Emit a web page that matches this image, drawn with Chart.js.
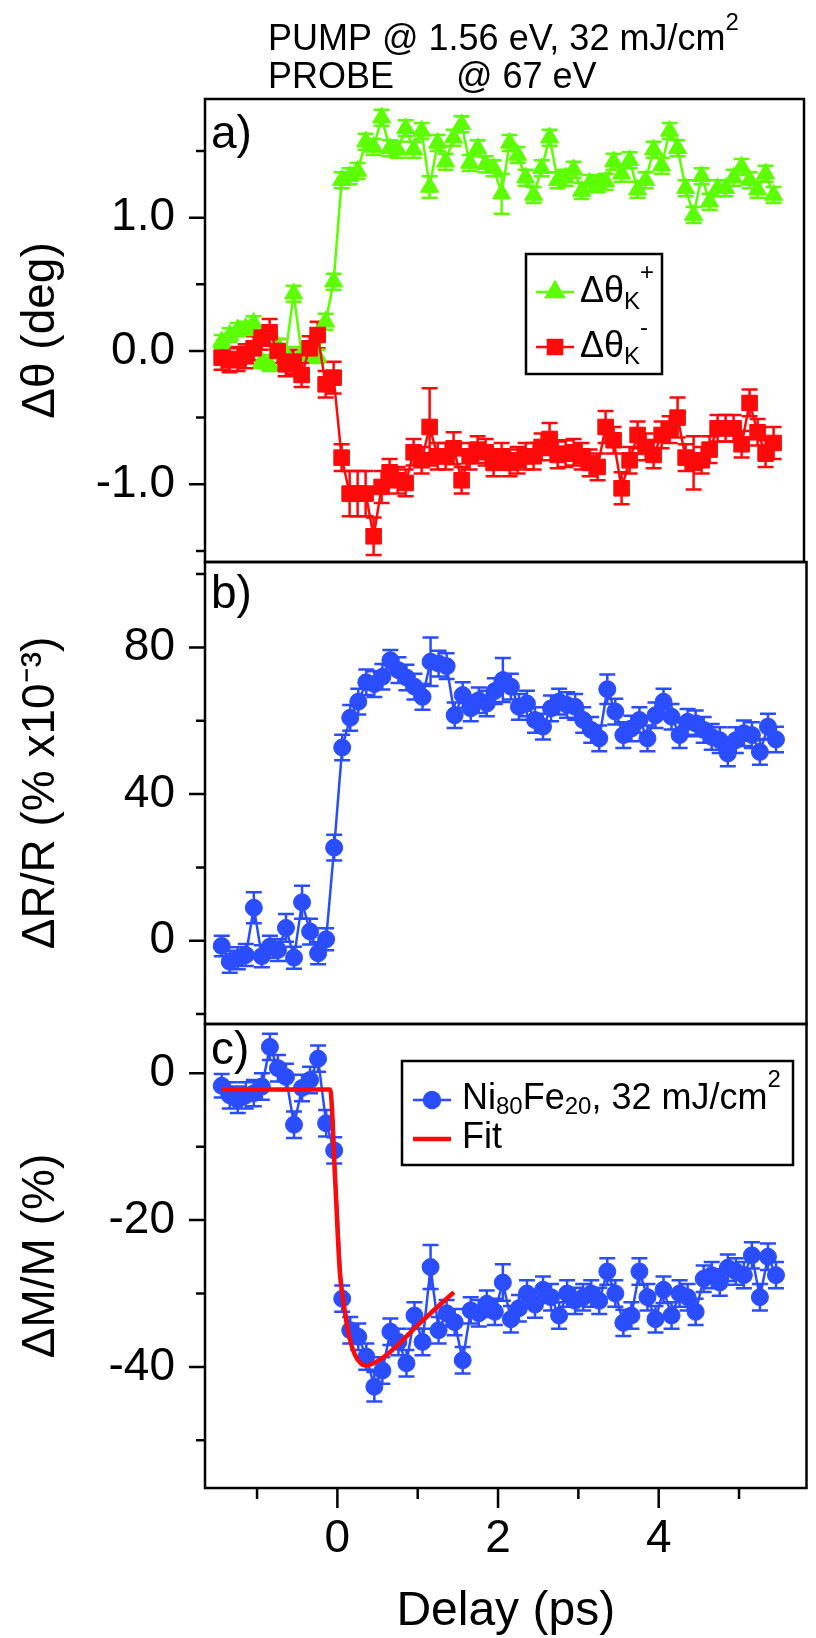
<!DOCTYPE html>
<html>
<head>
<meta charset="utf-8">
<script src="https://cdn.jsdelivr.net/npm/chart.js@4.4.0/dist/chart.umd.min.js"></script>
<style>
  body { margin: 0; background: #fff; }
  #wrap { position: relative; width: 816px; height: 1638px; overflow: hidden; }
  .panel { position: absolute; left: 0; width: 816px; }
</style>
</head>
<body>
<div id="wrap">
  <div class="panel" style="top:0;height:580px"><canvas id="chartA"></canvas></div>
  <div class="panel" style="top:540px;height:500px"><canvas id="chartB"></canvas></div>
  <div class="panel" style="top:1000px;height:638px"><canvas id="chartC"></canvas></div>
</div>
<script>
// pump-probe delay (ps), shared by all three panels
const delay = [-1.44, -1.34, -1.24, -1.14, -1.04, -0.94, -0.84, -0.74, -0.64, -0.54,
  -0.44, -0.34, -0.24, -0.14, -0.04, 0.06, 0.16, 0.26, 0.36, 0.46,
  0.56, 0.66, 0.76, 0.86, 0.96, 1.06, 1.16, 1.26, 1.36, 1.46,
  1.56, 1.66, 1.76, 1.86, 1.96, 2.06, 2.16, 2.26, 2.36, 2.46,
  2.56, 2.66, 2.76, 2.86, 2.96, 3.06, 3.16, 3.26, 3.36, 3.46,
  3.56, 3.66, 3.76, 3.86, 3.96, 4.06, 4.16, 4.26, 4.36, 4.46,
  4.56, 4.66, 4.76, 4.86, 4.96, 5.06, 5.16, 5.26, 5.36, 5.46];

// a) Kerr rotation, + and - helicity (deg)
const thetaPlus = [0.07, 0.12, 0.16, 0.17, 0.21, -0.08, -0.10, 0.04, -0.02, 0.43,
  -0.02, 0.00, -0.04, 0.22, 0.52, 1.28, 1.31, 1.35, 1.57, 1.53,
  1.75, 1.52, 1.51, 1.67, 1.51, 1.65, 1.23, 1.56, 1.42, 1.60,
  1.70, 1.41, 1.52, 1.40, 1.37, 1.18, 1.56, 1.47, 1.30, 1.17,
  1.37, 1.60, 1.28, 1.30, 1.36, 1.20, 1.26, 1.25, 1.27, 1.42,
  1.33, 1.43, 1.21, 1.28, 1.51, 1.39, 1.65, 1.52, 1.22, 1.02,
  1.31, 1.12, 1.22, 1.22, 1.30, 1.38, 1.28, 1.21, 1.33, 1.17];
const thetaPlusErr = [0.05, 0.05, 0.05, 0.05, 0.05, 0.05, 0.05, 0.05, 0.05, 0.06,
  0.05, 0.05, 0.05, 0.06, 0.06, 0.06, 0.06, 0.06, 0.06, 0.06,
  0.06, 0.06, 0.06, 0.06, 0.06, 0.06, 0.08, 0.06, 0.06, 0.06,
  0.06, 0.06, 0.06, 0.06, 0.06, 0.15, 0.06, 0.06, 0.06, 0.06,
  0.06, 0.06, 0.06, 0.06, 0.06, 0.06, 0.06, 0.06, 0.06, 0.06,
  0.06, 0.06, 0.06, 0.06, 0.06, 0.06, 0.06, 0.06, 0.06, 0.06,
  0.06, 0.06, 0.06, 0.06, 0.06, 0.06, 0.06, 0.06, 0.06, 0.06];
const thetaMinus = [-0.05, -0.07, -0.06, -0.04, 0.02, 0.10, 0.14, 0.00, -0.10, -0.08,
  -0.18, 0.02, 0.12, -0.25, -0.20, -0.80, -1.07, -1.07, -1.07, -1.39,
  -1.02, -0.91, -0.97, -0.99, -0.76, -0.82, -0.57, -0.79, -0.79, -0.73,
  -0.97, -0.79, -0.74, -0.76, -0.84, -0.79, -0.84, -0.82, -0.79, -0.79,
  -0.72, -0.66, -0.78, -0.77, -0.76, -0.79, -0.84, -0.87, -0.57, -0.67,
  -1.03, -0.82, -0.63, -0.72, -0.78, -0.63, -0.59, -0.50, -0.80, -0.84,
  -0.82, -0.74, -0.58, -0.58, -0.58, -0.70, -0.39, -0.61, -0.77, -0.69];
const thetaMinusErr = [0.09, 0.09, 0.09, 0.09, 0.09, 0.09, 0.10, 0.09, 0.09, 0.09,
  0.09, 0.09, 0.10, 0.10, 0.12, 0.10, 0.17, 0.17, 0.17, 0.14,
  0.12, 0.10, 0.10, 0.10, 0.10, 0.10, 0.29, 0.10, 0.10, 0.12,
  0.10, 0.10, 0.10, 0.10, 0.10, 0.10, 0.10, 0.10, 0.10, 0.10,
  0.10, 0.12, 0.10, 0.10, 0.10, 0.10, 0.10, 0.10, 0.12, 0.10,
  0.12, 0.10, 0.10, 0.10, 0.10, 0.10, 0.10, 0.15, 0.10, 0.20,
  0.10, 0.10, 0.10, 0.10, 0.10, 0.10, 0.10, 0.10, 0.10, 0.12];

// b) reflectivity change (% x10^-3)
const reflect = [-1.4, -5.7, -4.8, -3.9, 9.0, -4.2, -1.6, -2.5, 3.5, -4.6,
  10.5, 2.5, -3.4, 0.4, 25.4, 52.7, 60.8, 65.2, 70.5, 70.0,
  72.0, 76.5, 73.8, 71.8, 69.3, 66.5, 76.1, 75.6, 74.9, 61.5,
  67.0, 63.4, 65.6, 64.7, 68.1, 71.1, 69.3, 63.8, 64.7, 60.2,
  58.4, 63.4, 65.2, 64.3, 63.8, 60.2, 57.5, 55.2, 68.6, 62.5,
  56.1, 57.9, 60.2, 55.2, 61.5, 65.2, 61.1, 56.1, 59.7, 59.3,
  57.5, 55.6, 54.7, 51.1, 54.7, 56.6, 56.1, 51.5, 58.4, 54.9];
const reflectErr = [2.8, 3.0, 3.0, 3.0, 4.2, 3.0, 3.0, 3.0, 3.8, 3.0,
  4.5, 3.5, 3.0, 3.0, 3.5, 3.5, 3.5, 3.5, 3.5, 3.5,
  3.5, 2.8, 3.5, 3.5, 3.5, 3.5, 6.6, 3.5, 3.5, 3.5,
  3.5, 3.5, 3.5, 3.5, 3.5, 6.0, 3.5, 3.5, 3.5, 3.5,
  3.5, 3.5, 3.5, 3.5, 3.5, 3.5, 3.5, 3.5, 4.0, 3.5,
  3.5, 3.5, 3.5, 3.5, 3.5, 3.5, 3.5, 3.5, 3.5, 3.5,
  3.5, 3.5, 3.5, 3.5, 3.5, 3.5, 3.5, 3.5, 3.5, 3.5];

// c) magnetization change (%) and fit
const magn = [-1.7, -3.0, -3.6, -3.0, -2.7, -1.8, 3.6, 0.7, -0.5, -7.0,
  -2.0, -0.9, 2.0, -6.8, -10.5, -30.7, -35.0, -35.9, -38.6, -42.7,
  -40.5, -35.2, -36.6, -39.5, -33.0, -36.6, -26.4, -35.0, -32.7, -33.9,
  -39.1, -32.3, -32.7, -31.4, -32.5, -28.5, -33.5, -32.0, -30.0, -31.5,
  -29.5, -30.5, -33.0, -30.0, -31.0, -30.5, -30.0, -31.0, -27.0, -30.0,
  -34.0, -33.0, -27.0, -30.5, -33.5, -29.5, -33.0, -30.0, -30.5, -32.5,
  -28.0, -27.5, -28.5, -26.5, -27.0, -27.5, -24.8, -30.5, -25.0, -27.5];
const magnErr = [1.6, 1.8, 1.8, 1.8, 1.8, 1.8, 1.8, 1.8, 1.8, 1.8,
  1.8, 1.8, 1.8, 1.8, 1.8, 1.8, 1.8, 1.8, 1.8, 2.0,
  1.8, 1.8, 1.8, 1.8, 1.8, 1.8, 3.0, 1.8, 1.8, 1.8,
  1.8, 1.8, 1.8, 1.8, 1.8, 2.5, 1.8, 1.8, 1.8, 1.8,
  1.8, 1.8, 1.8, 1.8, 1.8, 1.8, 1.8, 1.8, 1.8, 1.8,
  1.8, 1.8, 1.8, 1.8, 1.8, 1.8, 1.8, 1.8, 1.8, 1.8,
  1.8, 1.8, 1.8, 1.8, 1.8, 1.8, 1.8, 1.8, 1.8, 1.8];
const fitX = [-1.44, -0.09, -0.03, 0.03, 0.08, 0.14, 0.22, 0.30, 0.36, 0.45, 0.63, 1.04, 1.45];
const fitY = [-2.2, -2.2, -14.0, -27.0, -31.5, -35.5, -38.4, -39.6, -39.8, -39.5, -38.2, -33.9, -29.8];

// axis ticks
const xMajor = [0, 2, 4];
const xMinor = [-1, 1, 3, 5];
const aMajor = [-1, 0, 1];
const aMinor = [-1.5, -0.5, 0.5, 1.5];
const bMajor = [0, 40, 80];
const bMinor = [-20, 20, 60, 100];
const cMajor = [-40, -20, 0];
const cMinor = [-50, -30, -10];

const GREEN = '#5cff00';
const RED = '#ff0a0a';
const BLUE = '#2a4dff';
const FONT = '"Liberation Sans", Arial, sans-serif';

Chart.defaults.font.family = FONT;
Chart.defaults.color = '#000';

function pts(xs, ys) {
  return xs.map((x, i) => ({ x: x, y: ys[i] }));
}

function richText(ctx, x, y, parts) {
  parts.forEach(p => {
    ctx.font = p.size + 'px ' + FONT;
    ctx.fillText(p.t, x, y + (p.dy || 0));
    x += ctx.measureText(p.t).width + (p.gap || 0);
  });
}

function legendLine(ctx, x, y, color, width, style, radius) {
  ctx.strokeStyle = color;
  ctx.fillStyle = color;
  ctx.lineWidth = width;
  ctx.beginPath();
  ctx.moveTo(x, y);
  ctx.lineTo(x + 38, y);
  ctx.stroke();
  if (style) {
    Chart.helpers.drawPoint(ctx, { pointStyle: style, radius: radius, rotation: 0, borderWidth: 1 }, x + 19, y);
  }
}

// box, ticks, error bars, panel letters and legends
const decor = {
  id: 'decor',
  beforeDatasetsDraw(chart) {
    const ctx = chart.ctx, xs = chart.scales.x, ys = chart.scales.y;
    chart.data.datasets.forEach(ds => {
      if (!ds.errors) return;
      ctx.save();
      ctx.strokeStyle = ds.borderColor;
      ctx.lineWidth = 2.5;
      ds.data.forEach((p, i) => {
        const px = xs.getPixelForValue(p.x);
        const hi = ys.getPixelForValue(p.y + ds.errors[i]);
        const lo = ys.getPixelForValue(p.y - ds.errors[i]);
        ctx.beginPath();
        ctx.moveTo(px, hi); ctx.lineTo(px, lo);
        ctx.moveTo(px - 8, hi); ctx.lineTo(px + 8, hi);
        ctx.moveTo(px - 8, lo); ctx.lineTo(px + 8, lo);
        ctx.stroke();
      });
      ctx.restore();
    });
  },
  afterDraw(chart, args, opts) {
    const ctx = chart.ctx, a = chart.chartArea, xs = chart.scales.x, ys = chart.scales.y;
    ctx.save();
    ctx.strokeStyle = '#000';
    ctx.lineWidth = 2.5;
    ctx.strokeRect(a.left, a.top, a.right - a.left, a.bottom - a.top);
    ctx.beginPath();
    opts.yMajor.forEach(v => { const p = ys.getPixelForValue(v); ctx.moveTo(a.left - 16, p); ctx.lineTo(a.left, p); });
    opts.yMinor.forEach(v => { const p = ys.getPixelForValue(v); ctx.moveTo(a.left - 9, p); ctx.lineTo(a.left, p); });
    if (opts.xTicks) {
      xMajor.forEach(v => { const p = xs.getPixelForValue(v); ctx.moveTo(p, a.bottom); ctx.lineTo(p, a.bottom + 20); });
      xMinor.forEach(v => { const p = xs.getPixelForValue(v); ctx.moveTo(p, a.bottom); ctx.lineTo(p, a.bottom + 11); });
    }
    ctx.stroke();
    ctx.fillStyle = '#000';
    ctx.textBaseline = 'alphabetic';
    ctx.textAlign = 'left';
    ctx.font = '46px ' + FONT;
    ctx.fillText(opts.label, a.left + 6, a.top + opts.labelDy);
    if (opts.draw) opts.draw(ctx, a);
    ctx.restore();
  }
};

function noPad(s) {
  s.paddingTop = 0; s.paddingBottom = 0; s.paddingLeft = 0; s.paddingRight = 0;
}

function yAxis(min, max, major, title, fmt) {
  return {
    type: 'linear', position: 'left', min: min, max: max,
    afterFit: s => { s.width = 205; noPad(s); },
    afterBuildTicks: s => { s.ticks = major.map(v => ({ value: v })); },
    grid: { display: false, drawTicks: false },
    border: { display: false },
    ticks: { padding: 30, font: { size: 46 }, callback: fmt },
    title: { display: true, text: title, font: { size: 46 }, padding: { top: 14, bottom: 0 } }
  };
}

function xHidden() {
  return { type: 'linear', min: -1.648, max: 5.84, display: false };
}

function baseOptions(pad, scales, deco) {
  return {
    responsive: true,
    maintainAspectRatio: false,
    animation: false,
    events: [],
    layout: { padding: pad },
    plugins: { legend: { display: false }, tooltip: { enabled: false }, decor: deco },
    scales: scales
  };
}

function series(data, color, style, radius, errors) {
  return {
    data: data, errors: errors, showLine: true,
    borderColor: color, backgroundColor: color, borderWidth: 2.5,
    pointStyle: style, pointRadius: radius, pointBorderWidth: 1,
    pointBackgroundColor: color, pointBorderColor: color
  };
}

// a) Kerr rotation
new Chart(document.getElementById('chartA'), {
  type: 'scatter',
  plugins: [decor],
  data: {
    datasets: [
      Object.assign(series(pts(delay, thetaMinus), RED, 'rect', 11, thetaMinusErr), { order: 0 }),
      Object.assign(series(pts(delay, thetaPlus), GREEN, 'triangle', 10.5, thetaPlusErr), { order: 1 })
    ]
  },
  options: baseOptions({ top: 99, right: 2, bottom: 18, left: 0 }, {
    x: xHidden(),
    y: yAxis(-1.583, 1.89, aMajor, 'Δθ (deg)', v => v.toFixed(1))
  }, {
    label: 'a)', labelDy: 49, yMajor: aMajor, yMinor: aMinor,
    draw(ctx, a) {
      // header text
      ctx.fillStyle = '#000';
      richText(ctx, 268, 50, [{ t: 'PUMP @ 1.56 eV, 32 mJ/cm', size: 36 }, { t: '2', size: 24, dy: -20 }]);
      richText(ctx, 268, 88, [{ t: 'PROBE', size: 36 }]);
      richText(ctx, 456, 88, [{ t: '@ 67 eV', size: 36 }]);
      // legend
      const lx = a.left + 321, ly = a.top + 155;
      ctx.strokeStyle = '#000';
      ctx.lineWidth = 2.5;
      ctx.strokeRect(lx, ly, 136, 120);
      legendLine(ctx, lx + 10, ly + 38, GREEN, 2.5, 'triangle', 10);
      legendLine(ctx, lx + 10, ly + 93, RED, 2.5, 'rect', 10);
      ctx.fillStyle = '#000';
      richText(ctx, lx + 54, ly + 48, [{ t: 'Δθ', size: 36 }, { t: 'K', size: 24, dy: 7 }, { t: '+', size: 24, dy: -22 }]);
      richText(ctx, lx + 54, ly + 103, [{ t: 'Δθ', size: 36 }, { t: 'K', size: 24, dy: 7 }, { t: '-', size: 24, dy: -22 }]);
    }
  })
});

// b) reflectivity
new Chart(document.getElementById('chartB'), {
  type: 'scatter',
  plugins: [decor],
  data: { datasets: [series(pts(delay, reflect), BLUE, 'circle', 8.5, reflectErr)] },
  options: baseOptions({ top: 22, right: 2, bottom: 16, left: 0 }, {
    x: xHidden(),
    y: yAxis(-22.7, 103.3, bMajor, 'ΔR/R (% x10⁻³)', v => String(v))
  }, { label: 'b)', labelDy: 46, yMajor: bMajor, yMinor: bMinor })
});

// c) magnetization
const xC = {
  type: 'linear', min: -1.648, max: 5.84,
  afterFit: s => { s.height = 150; noPad(s); },
  afterBuildTicks: s => { s.ticks = xMajor.map(v => ({ value: v })); },
  grid: { display: false, drawTicks: false },
  border: { display: false },
  ticks: { padding: 24, font: { size: 46 }, maxRotation: 0, callback: v => String(v) },
  title: { display: true, text: 'Delay (ps)', font: { size: 48, lineHeight: 1.1 }, padding: { top: 0, bottom: 0 } }
};

new Chart(document.getElementById('chartC'), {
  type: 'scatter',
  plugins: [decor],
  data: {
    datasets: [
      Object.assign(series(pts(fitX, fitY), RED, 'circle', 0), {
        borderWidth: 4.5, cubicInterpolationMode: 'monotone', order: 0
      }),
      Object.assign(series(pts(delay, magn), BLUE, 'circle', 8.5, magnErr), { order: 1 })
    ]
  },
  options: baseOptions({ top: 24, right: 2, bottom: 0, left: 0 }, {
    x: xC,
    y: yAxis(-56.5, 6.72, cMajor, 'ΔM/M (%)', v => String(v))
  }, {
    label: 'c)', labelDy: 40, yMajor: cMajor, yMinor: cMinor, xTicks: true,
    draw(ctx, a) {
      const lx = a.left + 197, ly = a.top + 37;
      ctx.strokeStyle = '#000';
      ctx.lineWidth = 2.5;
      ctx.strokeRect(lx, ly, 391, 104);
      legendLine(ctx, lx + 11, ly + 39, BLUE, 2.5, 'circle', 8);
      legendLine(ctx, lx + 11, ly + 78, RED, 4.5, null, 0);
      ctx.fillStyle = '#000';
      richText(ctx, lx + 60, ly + 48, [
        { t: 'Ni', size: 36 }, { t: '80', size: 24, dy: 5 }, { t: 'Fe', size: 36 },
        { t: '20', size: 24, dy: 5 }, { t: ', 32 mJ/cm', size: 36 }, { t: '2', size: 24, dy: -22 }
      ]);
      richText(ctx, lx + 60, ly + 87, [{ t: 'Fit', size: 36 }]);
    }
  })
});
</script>
</body>
</html>
